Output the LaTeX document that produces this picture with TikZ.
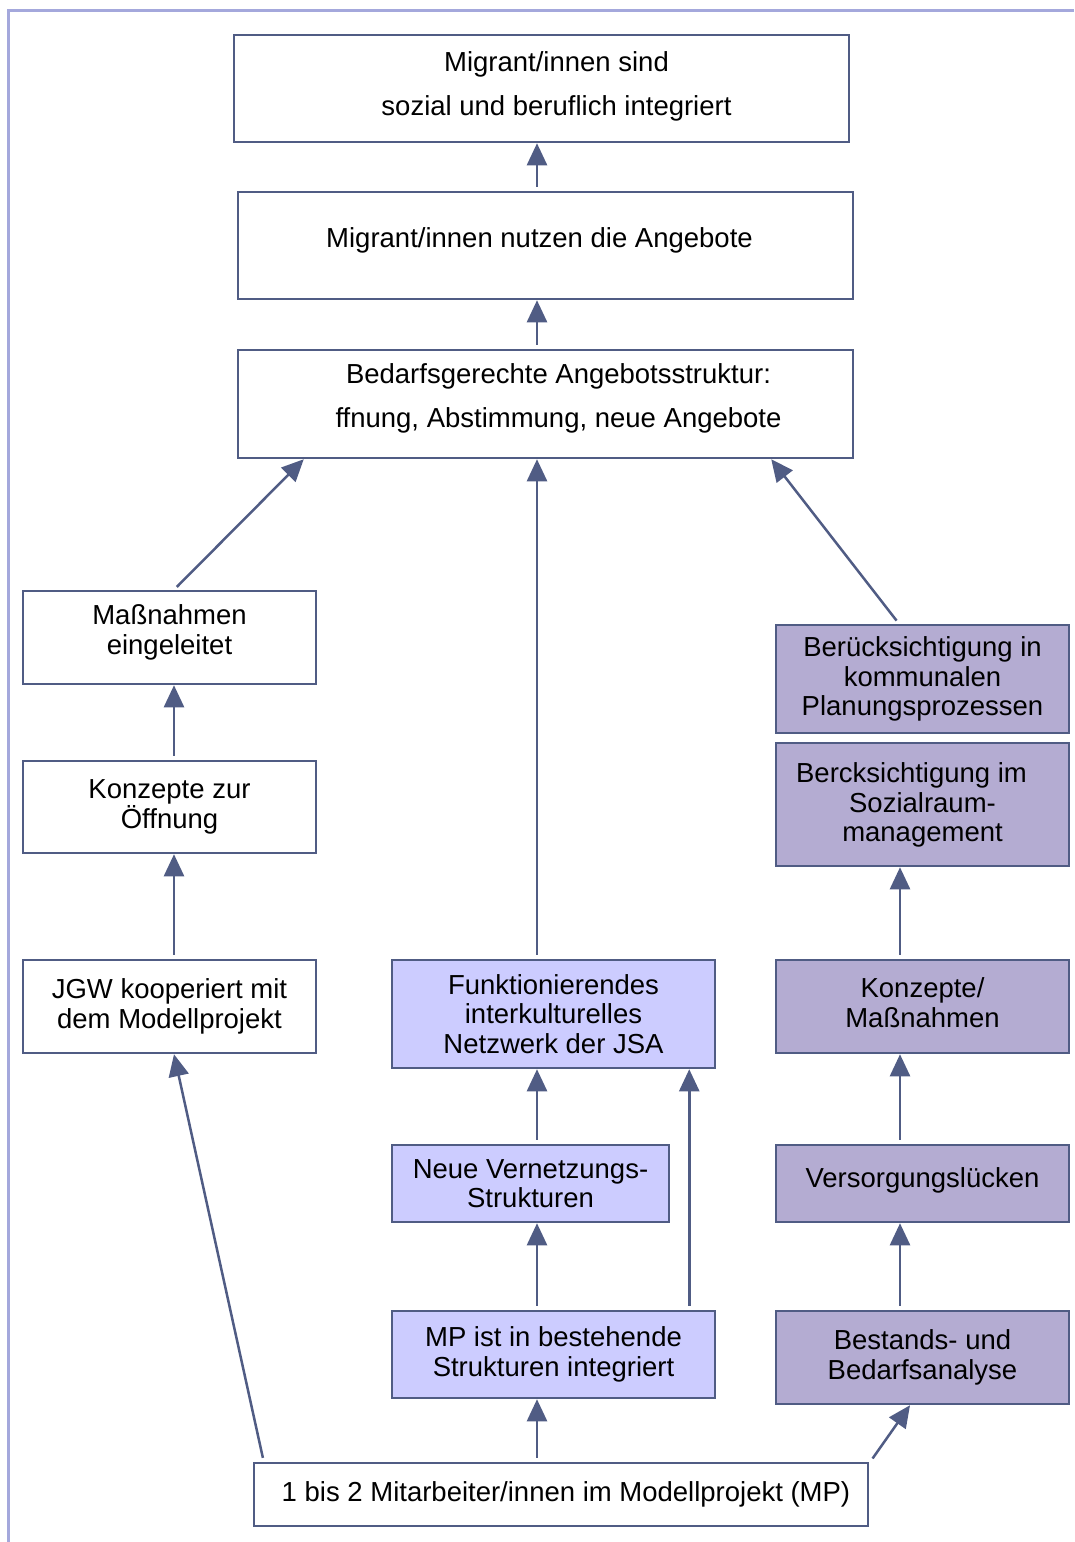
\documentclass[tikz,border=0pt]{standalone}
\usepackage{fontspec}
\setmainfont{Liberation Sans}
\usetikzlibrary{positioning, arrows.meta}

\definecolor{framecol}{RGB}{164,168,220}
\definecolor{edgecol}{RGB}{80,92,132}
\definecolor{netfill}{RGB}{204,204,255}
\definecolor{planfill}{RGB}{180,172,210}

\begin{document}
\begin{tikzpicture}[
    x=1pt, y=-1pt,
    whitebox/.style={rectangle, draw=edgecol, line width=2.5pt, fill=white,
                  align=center, inner sep=0pt,
                  font=\fontsize{27.5}{29.5}\selectfont},
    widebox/.style={whitebox, minimum width=615pt,
                  font=\fontsize{27.5}{44}\selectfont},
    sidebox/.style={whitebox, minimum width=293pt},
    netbox/.style={whitebox, fill=netfill},
    planbox/.style={sidebox, fill=planfill},
    arr/.style={-{Triangle[length=22pt, width=20pt]}, line width=2.5pt,
                  draw=edgecol, fill=edgecol, shorten <=4pt}
]
\useasboundingbox (0,0) rectangle (1074,1542);
\draw[framecol, line width=3pt] (8,1542) -- (8,10) -- (1074,10);

% upper chain
\node[widebox, minimum height=107pt, text depth=9pt] (goal) at (541.5,88.5) {\hspace*{30pt}Migrant/innen sind\\\hspace*{30pt}sozial und beruflich integriert};
\node[widebox, minimum height=107pt, text depth=16pt] (use) at (545.5,245.5) {Migrant/innen nutzen die Angebote\hspace*{12pt}};
\node[widebox, minimum height=108pt, text depth=16pt] (offer) at (545.5,404) {\hspace*{26pt}Bedarfsgerechte Angebotsstruktur:\\\hspace*{26pt}ffnung, Abstimmung, neue Angebote};

% left column
\node[sidebox, minimum height=93pt, text depth=16pt] (measures) at (169.5,637.5) {Maßnahmen\\eingeleitet};
\node[sidebox, minimum height=92pt] (concepts) at (169.5,807) {Konzepte zur\\Öffnung};
\node[sidebox, minimum height=93pt] (jgw) at (169.5,1006.5) {JGW kooperiert mit\\dem Modellprojekt};

% middle column
\node[netbox, minimum width=323pt, minimum height=108pt] (network) at (553.5,1014) {Funktionierendes\\interkulturelles\\Netzwerk der JSA};
\node[netbox, minimum width=277pt, minimum height=77pt] (newnet) at (530.5,1183.5) {Neue Vernetzungs-\\Strukturen};
\node[netbox, minimum width=323pt, minimum height=87pt] (mpint) at (553.5,1354.5) {MP ist in bestehende\\Strukturen integriert};

% right column
\node[planbox, minimum height=108pt] (planning) at (922.5,679) {Berücksichtigung in\\kommunalen\\Planungsprozessen};
\node[planbox, minimum height=123pt, text depth=4pt] (social) at (922.5,804.5) {Bercksichtigung im\hspace*{22pt}\\Sozialraum-\\management};
\node[planbox, minimum height=93pt, text depth=8pt] (concm) at (922.5,1006.5) {Konzepte/\\Maßnahmen};
\node[planbox, minimum height=77pt, text depth=12pt] (gaps) at (922.5,1183.5) {Versorgungslücken};
\node[planbox, minimum height=93pt] (analysis) at (922.5,1357.5) {Bestands- und\\Bedarfsanalyse};

% base
\node[whitebox, minimum width=614pt, minimum height=63pt] (staff) at (561,1494.5) {\hspace*{10pt}1 bis 2 Mitarbeiter/innen im Modellprojekt (MP)};

\draw[arr] ([xshift=-8.5pt]use.north) -- ([xshift=-4.5pt]goal.south);
\draw[arr] ([xshift=-8.5pt]offer.north) -- ([xshift=-8.5pt]use.south);
\draw[arr] ([xshift=4.5pt]measures.north) -- ([xshift=67pt]offer.south west);
\draw[arr] ([xshift=-16.5pt]network.north) -- ([xshift=-8.5pt]offer.south);
\draw[arr] ([xshift=-23.5pt]planning.north) -- ([xshift=-83pt]offer.south east);
\draw[arr] ([xshift=4.5pt]concepts.north) -- ([xshift=4.5pt]measures.south);
\draw[arr] ([xshift=4.5pt]jgw.north) -- ([xshift=4.5pt]concepts.south);
\draw[arr] ([xshift=11pt]staff.north west) -- ([xshift=4.5pt]jgw.south);
\draw[arr] ([xshift=6.5pt]newnet.north) -- ([xshift=-16.5pt]network.south);
\draw[arr] ([xshift=-16.5pt]mpint.north) -- ([xshift=6.5pt]newnet.south);
\draw[arr] ([xshift=-27pt]mpint.north east) -- ([xshift=-27pt]network.south east);
\draw[arr] ([xshift=-24pt]staff.north) -- ([xshift=-16.5pt]mpint.south);
\draw[arr] ([xshift=1pt]staff.north east) -- ([xshift=-12.5pt]analysis.south);
\draw[arr] ([xshift=-22.5pt]gaps.north) -- ([xshift=-22.5pt]concm.south);
\draw[arr] ([xshift=-22.5pt]analysis.north) -- ([xshift=-22.5pt]gaps.south);
\draw[arr] ([xshift=-22.5pt]concm.north) -- ([xshift=-22.5pt]social.south);
\end{tikzpicture}
\end{document}
